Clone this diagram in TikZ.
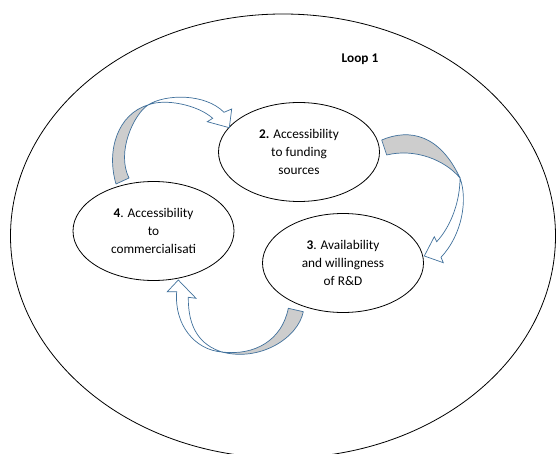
\documentclass[tikz,border=0pt]{standalone}
\usepackage{fontspec}
\setmainfont{Carlito}
\usepackage{tikz}
\usetikzlibrary{shapes,shapes.geometric}
\definecolor{arrowblue}{RGB}{65,113,156}
\definecolor{bandgray}{RGB}{205,205,205}

\begin{document}
\begin{tikzpicture}[x=1pt, y=-1pt, font=\fontsize{13.3}{18.3}\selectfont,
		stage/.style={draw, ellipse, line width=0.8pt, minimum width=161, minimum height=99, inner sep=0pt, align=center},
		bandback/.style={draw=arrowblue, fill=bandgray, line width=0.7pt, line join=round},
		bandfront/.style={draw=arrowblue, fill=white, line width=0.7pt, line join=miter}]
			\clip (0,0) rectangle (556,454);
			\node[draw, ellipse, line width=0.8pt, minimum width=545, minimum height=444, inner sep=0pt] (outer) at (283,236) {};
			\node (loop) at (360,59) {\textbf{Loop 1}};
			\node[stage] (s2) at (299,152) {\textbf{2.} Accessibility\\to funding\\sources};
			\node[stage] (s3) at (343,263) {\textbf{3}. Availability\\and willingness\\of R\&D};
			\node[stage] (s4) at (153.5,231) {\textbf{4}. Accessibility\\to\\commercialisati};
			\filldraw[bandback] (116,184) .. controls (106,150) and (118,114) .. (148,105) .. controls (134,114) and (116,152) .. (129,178) -- cycle;
			\filldraw[bandfront] (148,105) .. controls (165,94) and (205,93) .. (224,112.3) -- (231.7,109) -- (229.3,127.7) -- (207.3,121.7) -- (212.7,118.3) .. controls (198,105) and (165,98) .. (148,105) -- cycle;
			\filldraw[bandback] (381.7,140) .. controls (410,128) and (440,135) .. (460,178) .. controls (445,160) and (415,148) .. (386.7,155) -- cycle;
			\filldraw[bandfront] (460,178) .. controls (468,200) and (462,235) .. (441,257.3) -- (443.3,262.7) -- (424.3,256) -- (434.3,236.7) -- (436.7,241.7) .. controls (452,225) and (460,200) .. (460,178) -- cycle;
			\filldraw[bandback] (288.3,308.3) -- (303.3,311.7) .. controls (298,338) and (260,362) .. (222,352) .. controls (255,356) and (282,340) .. (288.3,308.3) -- cycle;
			\filldraw[bandfront] (222,352) .. controls (195,350) and (174,325) .. (176.7,291.7) -- (167.3,291.7) -- (178.3,280) -- (196,298.3) -- (188.3,297.3) .. controls (188,328) and (200,345) .. (222,352) -- cycle;
		\end{tikzpicture}
\end{document}
